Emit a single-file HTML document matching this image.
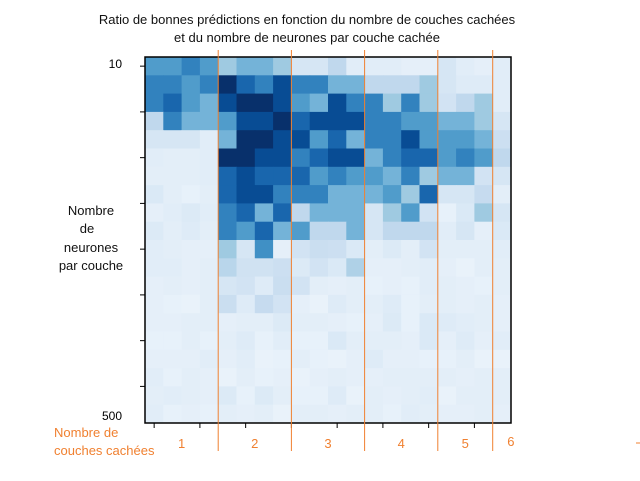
<!DOCTYPE html>
<html><head><meta charset="utf-8"><style>
body{margin:0;background:#fff;width:640px;height:476px;overflow:hidden;font-family:"Liberation Sans",sans-serif}
svg text{font-family:"Liberation Sans",sans-serif}
</style></head><body>
<svg id="chart" width="640" height="476" viewBox="0 0 640 476" xmlns="http://www.w3.org/2000/svg">
<text x="307" y="24" font-size="13" text-anchor="middle" fill="#111">Ratio de bonnes prédictions en fonction du nombre de couches cachées</text>
<text x="307" y="42" font-size="13" text-anchor="middle" fill="#111">et du nombre de neurones par couche cachée</text>
<g id="cells"></g>
<rect x="145" y="57" width="366" height="366" fill="none" stroke="#000" stroke-width="1.5"/>
<g id="ticks"></g>
<g id="groups"></g>
<text x="122" y="68" font-size="12" text-anchor="end" fill="#000">10</text>
<text x="122" y="420" font-size="12" text-anchor="end" fill="#000">500</text>
<g font-size="13" fill="#111" text-anchor="middle">
<text x="91" y="215">Nombre</text><text x="87" y="233">de</text><text x="91" y="252">neurones</text><text x="91" y="270">par couche</text></g>
<g font-size="13" fill="#f08030">
<text x="54" y="437">Nombre de</text><text x="54" y="455">couches cachées</text></g>
<line x1="636" y1="443" x2="640" y2="443" stroke="#f08030" stroke-width="1"/>
</svg>
<script>
const layerLabels=["1","2","3","4","5","6"];
const groupBounds=[0,4,8,12,16,19,20];
const nRows=20,nCols=20;
const values=[
[5,5,6,5,3,4,4,3,1,1,2,0.5,0.5,0.5,0.3,0.3,1,0.5,0.3,0.5],
[6,6,5,6,9,7,6,8,6,6,4,4,2,2,2,3,1,0.6,0.6,0.5],
[6,7,5,4,8,9,9,8,5,4,8,6,6,3,6,3,1.2,2,3,0.5],
[2,6,4,4,5,8,8,9,7,8,8,8,6,6,5,5,4,4,3,1],
[1,1,1,0.5,4,9,9,8,8,5,7,4,6,6,8,5,5,5,4,1.5],
[0.5,0.4,0.4,0.5,9,9,8,8,6,7,8,8,4,6,7,7,5,6,5,2],
[0.4,0.4,0.4,0.5,7,8,7,7,7,5,6,5,5,4,6,3,4,4,1.2,1],
[0.8,0.4,0.2,0.4,7,8,8,6,6,6,4,4,4,5,3,7,1,1,1.8,0.4],
[0.3,0.5,0.7,0.5,6,7,4,7,2,4,4,4,1,3,5,1.2,0.2,0.8,3,1],
[0.7,0.4,0.6,0.4,6,5,7,4,5,2,2,4,1,2,2,2,0.5,1,0.3,0.8],
[0.5,0.4,0.3,0.3,3,1,5.5,0.3,1.2,1.6,1.5,0.8,0.4,0.7,0.4,1.2,0.4,0.4,0.4,0.5],
[0.5,0.5,0.3,0.4,2.2,1.3,1.3,1.5,0.7,1.2,0.8,2.5,0.3,0.3,0.4,0.5,0.3,0.1,0.4,0.4],
[0.3,0.4,0.3,0.4,1,1.2,0.6,1.6,1.2,0.4,0.3,0.4,0.2,0.3,0.2,0.5,0.4,0.3,0.2,0.4],
[0.3,0.2,0.1,0.4,1.6,0.6,1.8,1.2,0.3,0.1,0.6,0.4,0.4,0.6,0.2,0.4,0.4,0.3,0.4,0.3],
[0.3,0.3,0.4,0.4,0.3,0.4,0.4,0.7,0.4,0.4,0.3,0.2,0.3,0.7,0.2,0.8,0.6,0.5,0.4,0.3],
[0.2,0.2,0.4,0.2,0.4,0.6,0.2,0.5,0.2,0.2,0.8,0.4,0.4,0.4,0.3,0.8,0.3,0.6,0.3,0.5],
[0.3,0.3,0.3,0.5,0.3,0.5,0.1,0.2,0.4,0.2,0.1,0.3,0.6,0.3,0.3,0.2,0.2,0.4,0.1,0.1],
[0.5,0.2,0.4,0.3,0.1,0.4,0.2,0.3,0.1,0.3,0.4,0.3,0.3,0.4,0.4,0.4,0.4,0.3,0.4,0.4],
[0.4,0.5,0.4,0.3,0.7,0.2,0.7,0.4,0.2,0.2,0.6,0.1,0.4,0.3,0.4,0.5,0.1,0.4,0.4,0.4],
[0.5,0.2,0.3,0.2,0.4,0.3,0.4,0.1,0.4,0.4,0.3,0.4,0.4,0.2,0.5,0.4,0.3,0.3,0.4,0.3]
];
const X0=145,Y0=57,W=366,H=366;
const cw=W/nCols,ch=H/nRows;
function xPos(c){return X0+c*cw;}
function yPos(r){return Y0+r*ch;}
const stops=[[247,251,255],[222,235,247],[198,219,239],[158,202,225],[107,174,214],[66,146,198],[33,113,181],[8,81,156],[8,48,107]];
function color(v){let t=0.06+Math.min(1,Math.max(0,v/9))*0.94;let p=t*(stops.length-1);let i=Math.min(stops.length-2,Math.floor(p));let f=p-i;
const c=stops[i].map((a,k)=>Math.round(a+(stops[i+1][k]-a)*f));return `rgb(${c[0]},${c[1]},${c[2]})`;}
const NS="http://www.w3.org/2000/svg";
const cells=document.getElementById('cells');
for(let r=0;r<nRows;r++)for(let c=0;c<nCols;c++){
const e=document.createElementNS(NS,'rect');


e.setAttribute('x',xPos(c));e.setAttribute('y',yPos(r));
e.setAttribute('width',cw+0.5);e.setAttribute('height',ch+0.5);
e.setAttribute('fill',color(values[r][c]));cells.appendChild(e);}
const ticks=document.getElementById('ticks');
for(let k=0;k<8;k++){
const yt=Y0+ch*0.5+k*ch*2.5;
const t=document.createElementNS(NS,'line');


t.setAttribute('x1',X0-5);t.setAttribute('x2',X0);t.setAttribute('y1',yt);t.setAttribute('y2',yt);t.setAttribute('stroke','#000');ticks.appendChild(t);
const xt=X0+cw*0.5+k*cw*2.5;
const u=document.createElementNS(NS,'line');


u.setAttribute('x1',xt);u.setAttribute('x2',xt);u.setAttribute('y1',Y0+H);u.setAttribute('y2',Y0+H+5);u.setAttribute('stroke','#000');ticks.appendChild(u);}
const groups=document.getElementById('groups');
for(let g=0;g<layerLabels.length;g++){
if(g>0){const x=xPos(groupBounds[g]);
const l=document.createElementNS(NS,'line');


l.setAttribute('x1',x);l.setAttribute('x2',x);l.setAttribute('y1',50);l.setAttribute('y2',451);l.setAttribute('stroke','#f08030');l.setAttribute('stroke-width','1');groups.appendChild(l);}
const mid=(xPos(groupBounds[g])+xPos(groupBounds[g+1]))/2;
const tx=document.createElementNS(NS,'text');


tx.setAttribute('x',g==5?mid+9:mid);tx.setAttribute('y',g==5?446:448);tx.setAttribute('font-size','13');tx.setAttribute('text-anchor','middle');tx.setAttribute('fill','#f08030');
tx.textContent=layerLabels[g];groups.appendChild(tx);}
</script>
</body></html>
